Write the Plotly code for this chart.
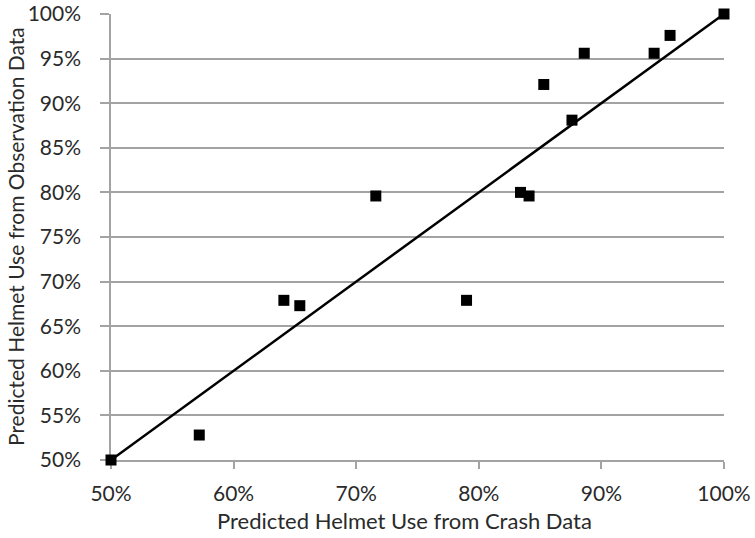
import plotly.graph_objects as go

# Data (percent)
crash_pct = [50.0, 57.2, 64.1, 65.4, 71.6, 79.0, 83.4, 84.1, 85.3, 87.6, 88.6, 94.3, 95.6, 100.0]
observation_pct = [50.0, 52.8, 67.9, 67.3, 79.6, 67.9, 80.0, 79.6, 92.1, 88.1, 95.6, 95.6, 97.6, 100.0]
line_x = [50, 100]
line_y = [50, 100]
x_ticks = [50, 60, 70, 80, 90, 100]
y_ticks = [50, 55, 60, 65, 70, 75, 80, 85, 90, 95, 100]
x_title = "Predicted Helmet Use from Crash Data"
y_title = "Predicted Helmet Use from Observation Data"

FONT = "Lato"
GRID = "#a3a3a3"
TXT = "#2a2a2a"

fig = go.Figure()
fig.add_trace(go.Scatter(x=line_x, y=line_y, mode="lines", cliponaxis=False,
                         line=dict(color="black", width=2.5), hoverinfo="skip"))
fig.add_trace(go.Scatter(x=crash_pct, y=observation_pct, mode="markers",
                         cliponaxis=False,
                         marker=dict(symbol="square", size=11, color="black",
                                     line=dict(width=0))))

fig.update_layout(
    width=755, height=538,
    margin=dict(l=111, r=31, t=14, b=78),
    paper_bgcolor="white", plot_bgcolor="white",
    showlegend=False,
    font=dict(family=FONT, size=21, color=TXT),
    xaxis=dict(range=[50, 100], tickvals=x_ticks, automargin=False,
               ticktext=[f"{v}%" for v in x_ticks],
               ticklabeloverflow="allow", ticklabelstandoff=7,
               showgrid=False, zeroline=False, layer="below traces",
               showline=True, linecolor=GRID, linewidth=1.5,
               ticks="outside", ticklen=7, tickcolor=GRID, tickwidth=1.5,
               tickfont=dict(family=FONT, size=21, color=TXT)),
    yaxis=dict(range=[50, 100], tickvals=y_ticks, automargin=False,
               ticktext=[f"{v}%" for v in y_ticks],
               ticklabeloverflow="allow", ticklabelstandoff=15,
               showgrid=True, gridcolor=GRID, gridwidth=1.5, zeroline=False,
               layer="below traces",
               showline=True, linecolor=GRID, linewidth=1.5,
               ticks="outside", ticklen=9, tickcolor=GRID, tickwidth=1.5,
               tickfont=dict(family=FONT, size=21, color=TXT)),
    annotations=[
        dict(text=x_title, xref="paper", yref="paper", x=0.479, y=0,
             yshift=-60, xanchor="center", yanchor="middle", showarrow=False,
             font=dict(family=FONT, size=22, color=TXT)),
        dict(text=y_title, xref="paper", yref="paper", x=0, y=0.5,
             xshift=-96, xanchor="center", yanchor="middle", textangle=-90,
             showarrow=False, font=dict(family=FONT, size=21, color=TXT)),
    ],
)

fig.write_html("out.html", config={"displayModeBar": False},
               post_script="document.body.style.margin='0';document.body.style.padding='0';")
